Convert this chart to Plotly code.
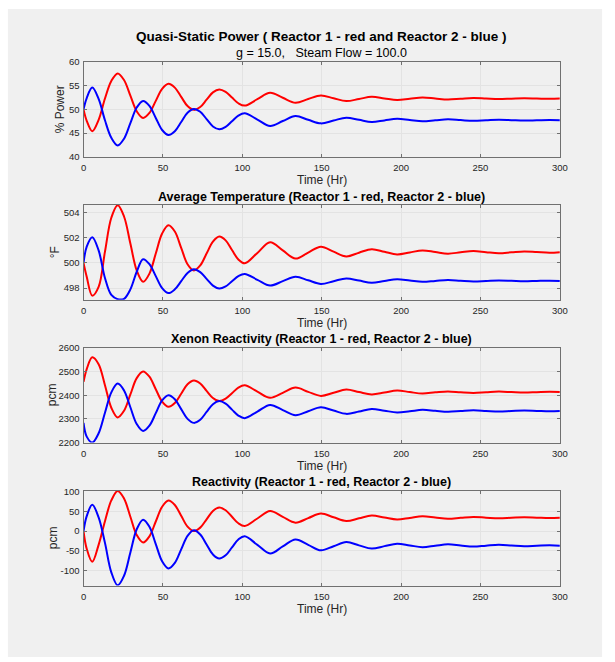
import plotly.graph_objects as go

# ---------------- data ----------------
TIME = [0, 2, 5.5, 9.5, 13.5, 17.5, 21.5, 25.5, 29.5, 33.5, 37.5, 41.5, 45.5, 49.5,
        53.5, 57.5, 61.5, 65.5, 69.5, 73.5, 77.5, 81.5, 85.5, 89.5, 93.5, 97.5, 101.5,
        109.5, 117.5, 125.5, 133.5, 141.5, 149.5, 157.5, 165.5, 173.5, 181.5, 189.5,
        197.5, 205.5, 213.5, 221.5, 229.5, 237.5, 245.5, 253.5, 261.5, 269.5, 277.5,
        285.5, 293.5, 300]

POWER_R1 = [50.0, 47.6, 45.4, 47.8, 52.3, 56.0, 57.6, 56.2, 52.9, 49.6, 48.2, 49.25, 51.8, 54.35,
            55.4, 54.6, 52.65, 50.7, 49.9, 50.5, 52.05, 53.6, 54.2, 53.7, 52.5, 51.3, 50.8,
            52.15, 53.5, 52.45, 51.4, 52.2, 52.95, 52.35, 51.75, 52.2, 52.65, 52.32,
            52.0, 52.25, 52.5, 52.3, 52.1, 52.26, 52.42, 52.3, 52.18, 52.27, 52.36,
            52.3, 52.24, 52.28]
POWER_R2 = [50.0, 52.4, 54.6, 52.2, 47.7, 44.0, 42.4, 43.8, 47.1, 50.4, 51.8, 50.75, 48.2, 45.65,
            44.6, 45.4, 47.35, 49.3, 50.1, 49.5, 47.95, 46.4, 45.8, 46.3, 47.5, 48.7, 49.2,
            47.85, 46.5, 47.55, 48.6, 47.8, 47.05, 47.65, 48.25, 47.8, 47.35, 47.68,
            48.0, 47.75, 47.5, 47.7, 47.9, 47.74, 47.58, 47.7, 47.82, 47.73, 47.64,
            47.7, 47.76, 47.72]

TEMP_R1 = [500.0, 498.9, 497.4, 498.1, 500.9, 503.6, 504.6, 503.7, 501.55, 499.4, 498.5, 499.15, 500.75, 502.35,
           503.0, 502.5, 501.2, 499.9, 499.4, 499.8, 500.75, 501.7, 502.1, 501.8, 501.03, 500.28, 499.97,
           500.8, 501.65, 501.0, 500.35, 500.83, 501.3, 500.9, 500.52, 500.82, 501.1, 500.89,
           500.68, 500.84, 501.0, 500.87, 500.74, 500.85, 500.95, 500.86, 500.78, 500.85, 500.92,
           500.87, 500.82, 500.86]
TEMP_R2 = [500.0, 501.3, 502.05, 501.0, 498.8, 497.45, 497.12, 497.15, 497.9, 499.3, 500.3, 499.9, 498.95, 498.0,
           497.6, 497.9, 498.55, 499.2, 499.5, 499.27, 498.73, 498.2, 497.96, 498.13, 498.54, 498.95, 499.12,
           498.66, 498.2, 498.55, 498.9, 498.62, 498.33, 498.55, 498.77, 498.6, 498.43, 498.57,
           498.7, 498.6, 498.5, 498.57, 498.64, 498.58, 498.53, 498.57, 498.61, 498.58, 498.54,
           498.57, 498.59, 498.57]

XENON_R1 = [2456, 2510, 2560, 2531, 2442, 2347, 2306, 2334, 2403, 2472, 2500, 2478, 2425, 2373,
            2351, 2367, 2406, 2446, 2462, 2449, 2418, 2388, 2375, 2385, 2408, 2432, 2442,
            2415, 2389, 2410, 2432, 2414, 2397, 2410, 2424, 2413, 2403, 2411,
            2420, 2413, 2407, 2412, 2416, 2412, 2409, 2412, 2415, 2413, 2411,
            2412.5, 2414, 2413]
XENON_R2 = [2283, 2225, 2200, 2239, 2326, 2412, 2449, 2420, 2349, 2278, 2249, 2271, 2324, 2378,
            2400, 2383, 2341, 2300, 2283, 2296, 2329, 2362, 2375, 2364, 2339, 2314, 2303,
            2331, 2359, 2337, 2315, 2332, 2349, 2335, 2321, 2331, 2342, 2334.5,
            2327, 2332, 2338, 2334, 2330, 2333, 2336, 2333.5, 2331, 2333, 2335,
            2333.5, 2332, 2333]

REACT_R1 = [0, -45, -78, -35, 25, 78, 102, 83, 36.5, -10, -29, -13.4, 24.4, 62,
            77.7, 66.3, 38.9, 11.3, 0, 8.8, 30, 51.2, 60, 53.1, 36.5, 19.9, 13,
            32, 51, 36, 21.5, 33, 44.6, 35, 25.6, 32.5, 39.5, 34.5,
            29.5, 33.5, 37.5, 34.5, 31.5, 33.8, 36, 34.2, 32.5, 33.9, 35.2,
            34.2, 33.2, 34]
REACT_R2 = [0, 38, 67, 35, -30, -105, -138, -113.6, -54.5, 4.6, 29, 10.9, -33, -76.9,
            -95, -80.8, -46.5, -12.2, 2, -8.5, -34, -59.5, -70, -61.7, -41.5, -21.3, -13,
            -35, -57, -39, -21.5, -35, -49, -38.5, -28, -36.3, -44.6, -38.3,
            -32, -36.5, -41, -37.3, -33.5, -36.5, -39.5, -37.2, -35, -36.8, -38.5,
            -37.2, -36, -37]

X_TICKS = [0, 50, 100, 150, 200, 250, 300]
Y_TICKS = [[40, 45, 50, 55, 60], [498, 500, 502, 504],
           [2200, 2300, 2400, 2500, 2600], [-100, -50, 0, 50, 100]]
Y_TICKTEXT = [["40", "45", "50", "55", "60"], ["498", "500", "502", "504"],
              ["2200", "2300", "2400", "2500", "2600"], ["-100", "-50", "0", "50", "100"]]
Y_RANGES = [[40, 60], [497.08, 504.62], [2200, 2600], [-138.5, 102.5]]

TITLE = "Quasi-Static Power ( Reactor 1 - red and Reactor 2 - blue )"
SUBTITLE = "g = 15.0,\u00a0\u00a0 Steam Flow = 100.0"
PANEL_TITLES = [None,
                "Average Temperature (Reactor 1 - red, Reactor 2 - blue)",
                "Xenon Reactivity (Reactor 1 - red, Reactor 2 - blue)",
                "Reactivity (Reactor 1 - red, Reactor 2 - blue)"]
Y_LABELS = ["% Power", "\u00b0F", "pcm", "pcm"]
X_LABEL = "Time (Hr)"

SERIES = [(POWER_R1, POWER_R2), (TEMP_R1, TEMP_R2), (XENON_R1, XENON_R2), (REACT_R1, REACT_R2)]

# ---------------- layout (pixels) ----------------
W, H = 615, 662
LEFT, RIGHT = 82, 567
TOPS = [57, 202.3, 347.6, 493]
PH = 96.3
FONT = "Liberation Sans, Arial, Helvetica, sans-serif"
AXCOL = "#707070"
TXTCOL = "#262626"


def px(x):
    return x / W


def py(y):
    return 1 - y / H


fig = go.Figure()
annotations = []
for i, (r1, r2) in enumerate(SERIES):
    ax = "" if i == 0 else str(i + 1)
    fig.add_trace(go.Scatter(x=TIME, y=r1, mode="lines", line=dict(color="#ff0000", width=2, shape="spline", smoothing=1.0),
                             xaxis="x" + ax, yaxis="y" + ax, showlegend=False, hoverinfo="skip"))
    fig.add_trace(go.Scatter(x=TIME, y=r2, mode="lines", line=dict(color="#0000ff", width=2, shape="spline", smoothing=1.0),
                             xaxis="x" + ax, yaxis="y" + ax, showlegend=False, hoverinfo="skip"))
    top = TOPS[i]
    bot = top + PH
    common = dict(showline=True, linecolor=AXCOL, linewidth=1, mirror="allticks",
                  ticks="inside", ticklen=3, tickcolor=AXCOL, tickwidth=1,
                  showgrid=True, gridcolor="#e3e3e3", gridwidth=1, zeroline=False,
                  tickfont=dict(family=FONT, size=9.5, color=TXTCOL))
    fig.update_layout(**{
        "xaxis" + ax: dict(domain=[px(LEFT), px(RIGHT)], range=[0, 300], tickvals=X_TICKS,
                           anchor="y" + ax, ticklabelstandoff=2, **common),
        "yaxis" + ax: dict(domain=[py(bot), py(top)], range=Y_RANGES[i], tickvals=Y_TICKS[i],
                           ticktext=Y_TICKTEXT[i], anchor="x" + ax, ticklabelstandoff=1, **common),
    })
    cx = (LEFT + RIGHT) / 2
    annotations.append(dict(text=X_LABEL, x=px(cx), y=py(bot + 23.5), xref="paper", yref="paper",
                            showarrow=False, xanchor="center", yanchor="middle",
                            font=dict(family=FONT, size=12, color=TXTCOL)))
    ylx = [58, 53, 50, 51][i]
    annotations.append(dict(text=Y_LABELS[i], x=px(ylx), y=py(top + PH / 2), xref="paper", yref="paper",
                            showarrow=False, xanchor="center", yanchor="middle", textangle=-90,
                            font=dict(family=FONT, size=12, color=TXTCOL)))
    if PANEL_TITLES[i]:
        annotations.append(dict(text="<b>" + PANEL_TITLES[i] + "</b>", x=px(cx), y=py(top - 8.5),
                                xref="paper", yref="paper", showarrow=False, xanchor="center", yanchor="middle",
                                font=dict(family=FONT, size=12.5, color="#000000")))

cx = (LEFT + RIGHT) / 2
annotations.append(dict(text="<b>" + TITLE + "</b>", x=px(cx), y=py(31), xref="paper", yref="paper",
                        showarrow=False, xanchor="center", yanchor="middle",
                        font=dict(family=FONT, size=13.5, color="#000000")))
annotations.append(dict(text=SUBTITLE, x=px(cx), y=py(48.3), xref="paper", yref="paper",
                        showarrow=False, xanchor="center", yanchor="middle",
                        font=dict(family=FONT, size=12.5, color="#000000")))

fig.update_layout(
    width=W, height=H, margin=dict(l=0, r=0, t=0, b=0),
    paper_bgcolor="#ffffff", plot_bgcolor="#ffffff",
    annotations=annotations,
    shapes=[dict(type="rect", xref="paper", yref="paper", x0=px(5), x1=px(610), y0=0, y1=py(3),
                 fillcolor="#f0f0f0", line=dict(width=0), layer="below")],
)

fig.write_html("out.html")
